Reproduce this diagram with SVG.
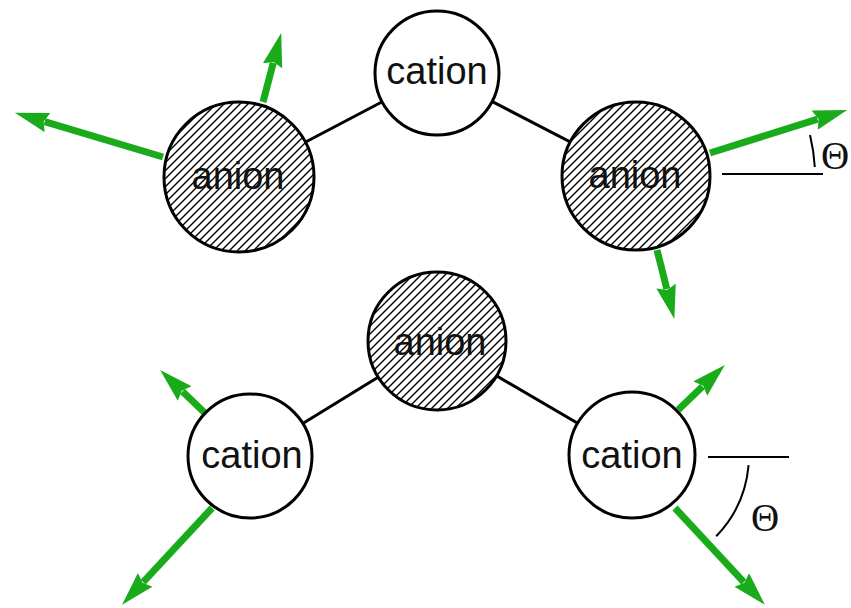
<svg xmlns="http://www.w3.org/2000/svg" width="851" height="608" viewBox="0 0 851 608">
<style>
.bond{stroke:#000;stroke-width:3;fill:none}
.node{stroke:#000;stroke-width:3}
.cat{fill:#fff}
.an{fill:url(#hatch)}
.lbl{font-family:"Liberation Sans",Arial,sans-serif;font-size:38px;fill:#111;text-anchor:middle}
.th{font-family:"Liberation Serif","Times New Roman",serif;font-size:39px;fill:#111}
.arr{stroke:#1aab1a;stroke-width:7;fill:none;marker-end:url(#head)}
.guide{stroke:#000;stroke-width:2;fill:none}
</style>
<defs>
<pattern id="hatch" patternUnits="userSpaceOnUse" width="8" height="8">
<rect width="8" height="8" fill="#fff"/>
<path d="M-1,1 L1,-1 M0,8 L8,0 M7,9 L9,7" stroke="#000" stroke-width="1.4"/>
</pattern>
<marker id="head" markerUnits="userSpaceOnUse" markerWidth="36" markerHeight="22" refX="3" refY="10" orient="auto" viewBox="0 0 36 22">
<path d="M0,0 L34,10 L0,20 L4,10 Z" fill="#1aab1a"/>
</marker>
</defs>
<g id="connectors">
<line class="bond" x1="239" y1="177" x2="437" y2="73"/>
<line class="bond" x1="437" y1="73" x2="636" y2="176"/>
<line class="bond" x1="250" y1="456" x2="437" y2="341"/>
<line class="bond" x1="437" y1="341" x2="632" y2="455"/>
</g>
<g id="arrows">
<line class="arr" x1="163" y1="157" x2="44.6" y2="121.7"/>
<line class="arr" x1="263" y1="102" x2="273.3" y2="62.9"/>
<line class="arr" x1="710" y1="153" x2="817.6" y2="119.2"/>
<line class="arr" x1="657" y1="250" x2="666.8" y2="289"/>
<line class="arr" x1="207" y1="415" x2="182.5" y2="391.5"/>
<line class="arr" x1="212" y1="508" x2="143.2" y2="582.1"/>
<line class="arr" x1="678" y1="410" x2="702.5" y2="386.5"/>
<line class="arr" x1="675" y1="508" x2="743.8" y2="582.1"/>
</g>
<g id="cation-top">
<circle class="node cat" cx="437" cy="73" r="62"/>
<text class="lbl" x="437" y="84">cation</text>
</g>
<g id="anion-top-left">
<circle class="node an" cx="239" cy="177" r="75"/>
<text class="lbl" x="238" y="189">anion</text>
</g>
<g id="anion-top-right">
<circle class="node an" cx="636" cy="176" r="74"/>
<text class="lbl" x="635" y="188">anion</text>
</g>
<g id="anion-bottom">
<circle class="node an" cx="437" cy="341" r="69"/>
<text class="lbl" x="440" y="355">anion</text>
</g>
<g id="cation-bottom-left">
<circle class="node cat" cx="250" cy="456" r="62"/>
<text class="lbl" x="252" y="468">cation</text>
</g>
<g id="cation-bottom-right">
<circle class="node cat" cx="632" cy="455" r="63"/>
<text class="lbl" x="632" y="468">cation</text>
</g>
<g id="angle-top">
<line class="guide" x1="722" y1="174" x2="823" y2="174"/>
<path class="guide" d="M814.8,167 A179,179 0 0 0 810,135"/>
<text class="th" x="821" y="169">Θ</text>
</g>
<g id="angle-bottom">
<line class="guide" x1="708" y1="457" x2="789" y2="457"/>
<path class="guide" d="M748.6,465.2 A117,117 0 0 1 716.2,536.3"/>
<text class="th" x="751" y="531">Θ</text>
</g>
</svg>
